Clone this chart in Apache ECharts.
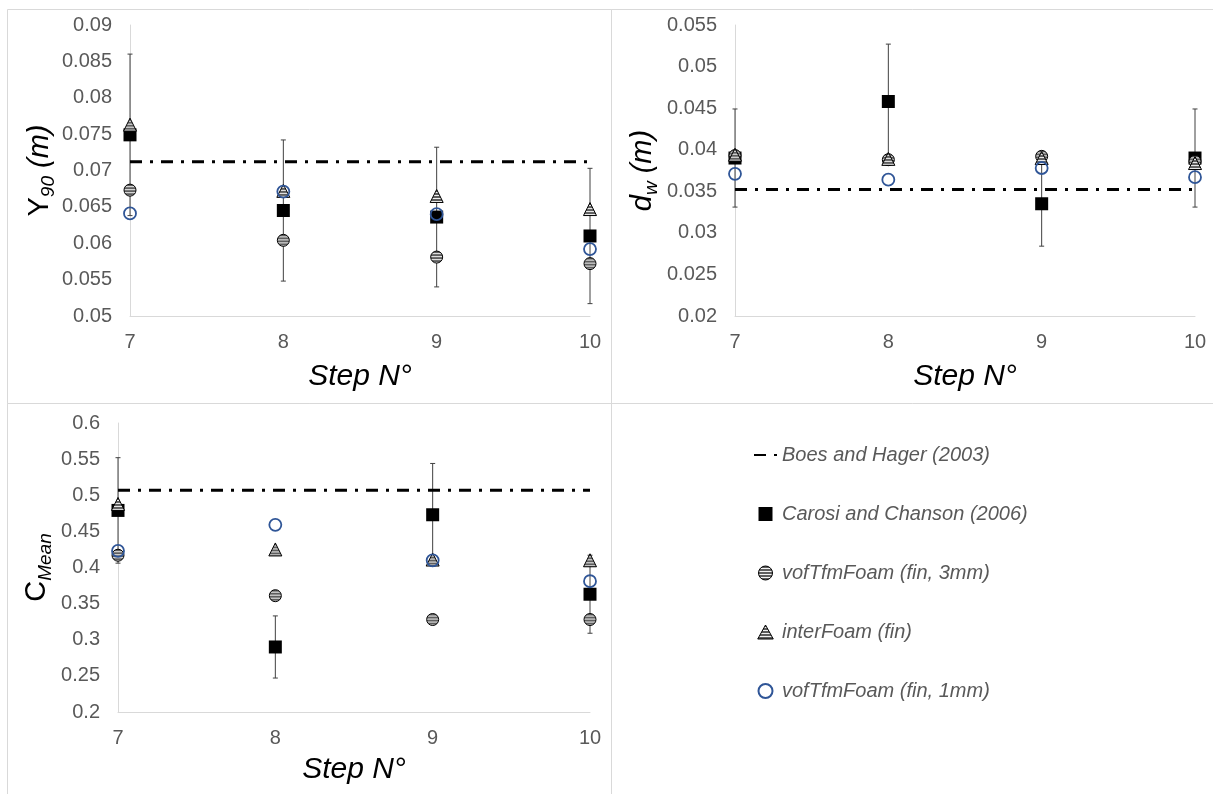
<!DOCTYPE html>
<html>
<head>
<meta charset="utf-8">
<script src="https://cdn.jsdelivr.net/npm/echarts@6/dist/echarts.min.js"></script>
<style>
html,body{margin:0;padding:0;background:#fff;}
#chart{width:1213px;height:794px;}
</style>
</head>
<body>
<div id="chart"></div>
<script>
// ---- data ----
const steps = [7, 8, 9, 10];
const names = ['Boes and Hager (2003)', 'Carosi and Chanson (2006)', 'vofTfmFoam (fin, 3mm)', 'interFoam (fin)', 'vofTfmFoam (fin, 1mm)'];

// Panel 1: Y90 (m)
const boesY90 = 0.0712;
const carosiY90 = [0.0749, 0.0645, 0.0636, 0.0610];
const carosiErrY90 = [0.0111, 0.0097, 0.0096, 0.0093];
const vof3Y90 = [0.0673, 0.0604, 0.0581, 0.0572];
const interY90 = [0.0763, 0.0672, 0.0665, 0.0647];
const vof1Y90 = [0.0641, 0.0671, 0.0640, 0.0592];

// Panel 2: dw (m)
const boesDw = 0.0352;
const carosiDw = [0.0390, 0.0458, 0.0335, 0.0390];
const carosiErrDw = [0.0059, 0.0069, 0.0051, 0.0059];
const vof3Dw = [0.0393, 0.0388, 0.0392, 0.0386];
const interDw = [0.0394, 0.0389, 0.0390, 0.0384];
const vof1Dw = [0.0371, 0.0364, 0.0378, 0.0367];

// Panel 3: CMean
const boesC = 0.507;
const carosiC = [0.479, 0.290, 0.473, 0.363];
const carosiErrC = [0.073, 0.043, 0.071, 0.054];
const vof3C = [0.417, 0.361, 0.328, 0.328];
const interC = [0.488, 0.425, 0.411, 0.410];
const vof1C = [0.423, 0.459, 0.410, 0.381];

// axis ranges
const yMin = [0.05, 0.02, 0.2];
const yMax = [0.09, 0.055, 0.6];
const yStep = [0.005, 0.005, 0.05];

// ---- styling helpers ----
const FONT = 'Liberation Sans, Arial, sans-serif';
const stripe = document.createElement('canvas');
stripe.width = 4; stripe.height = 3;
(function(){
  const c = stripe.getContext('2d');
  c.fillStyle = '#5e5e5e'; c.fillRect(0, 0, 4, 2);
  c.fillStyle = '#f2f2f2'; c.fillRect(0, 2, 4, 1);
})();
// symbols are drawn at unit size and scaled by size/2, so counter-scale the pattern
function stripeFor(size) {
  return { image: stripe, repeat: 'repeat', scaleX: 2 / size, scaleY: 2 / size };
}
const stripeLegend = { image: stripe, repeat: 'repeat' };

const CIRC = 12, TRI = 13, SQ = 13;

const panels = [
  { boes: boesY90, carosi: carosiY90, err: carosiErrY90, vof3: vof3Y90, inter: interY90, vof1: vof1Y90 },
  { boes: boesDw, carosi: carosiDw, err: carosiErrDw, vof3: vof3Dw, inter: interDw, vof1: vof1Dw },
  { boes: boesC, carosi: carosiC, err: carosiErrC, vof3: vof3C, inter: interC, vof1: vof1C }
];

const grids = [
  { left: 130, top: 25, width: 460, height: 291 },
  { left: 735, top: 25, width: 460, height: 291 },
  { left: 118, top: 423, width: 472, height: 289 }
];

const yNames = [
  '{u|Y}{s|90}{i| (m)}',
  '{i|d}{s|w}{i| (m)}',
  '{u|C}{s|Mean}'
];
const yNameGaps = [71, 74, 63];
const xNameGaps = [46, 46, 43];

const richName = {
  u: { fontSize: 29, fontFamily: FONT, color: '#000' },
  i: { fontSize: 29, fontStyle: 'italic', fontFamily: FONT, color: '#000' },
  s: { fontSize: 19, fontStyle: 'italic', fontFamily: FONT, color: '#000', padding: [17, 0, 0, 0] }
};

const xAxes = grids.map((g, i) => ({
  type: 'value', gridIndex: i, min: 7, max: 10, interval: 1,
  name: 'Step N°', nameLocation: 'middle', nameGap: xNameGaps[i],
  nameTextStyle: { fontSize: 30, fontStyle: 'italic', fontFamily: FONT, color: '#000' },
  axisLine: { show: true, lineStyle: { color: '#d9d9d9', width: 1 } },
  axisTick: { show: false },
  splitLine: { show: false },
  axisLabel: { fontSize: 20, color: '#595959', fontFamily: FONT, margin: 16 }
}));

const yAxes = grids.map((g, i) => ({
  type: 'value', gridIndex: i, min: yMin[i], max: yMax[i], interval: yStep[i],
  name: yNames[i], nameLocation: 'middle', nameRotate: 90, nameGap: yNameGaps[i],
  nameTextStyle: { rich: richName },
  axisLine: { show: true, lineStyle: { color: '#d9d9d9', width: 1 } },
  axisTick: { show: false },
  splitLine: { show: false },
  axisLabel: { fontSize: 20, color: '#595959', fontFamily: FONT, margin: 18 }
}));

const series = [];
panels.forEach((p, i) => {
  // error bars of Carosi and Chanson
  series.push({
    type: 'custom', xAxisIndex: i, yAxisIndex: i, silent: true, z: 1,
    data: steps.map((s, k) => [s, p.carosi[k] - p.err[k], p.carosi[k] + p.err[k]]),
    encode: { x: 0, y: [1, 2] },
    renderItem: function (params, api) {
      const x = api.value(0), lo = api.value(1), hi = api.value(2);
      const a = api.coord([x, lo]), b = api.coord([x, hi]);
      const c = 2.5;
      const st = { stroke: '#404040', lineWidth: 1 };
      return {
        type: 'group', children: [
          { type: 'line', shape: { x1: a[0], y1: a[1], x2: b[0], y2: b[1] }, style: st },
          { type: 'line', shape: { x1: a[0] - c, y1: a[1], x2: a[0] + c, y2: a[1] }, style: st },
          { type: 'line', shape: { x1: b[0] - c, y1: b[1], x2: b[0] + c, y2: b[1] }, style: st }
        ]
      };
    }
  });
  series.push({
    name: names[0], type: 'line', xAxisIndex: i, yAxisIndex: i, z: 2,
    data: [[steps[0], p.boes], [steps[steps.length - 1], p.boes]],
    symbol: 'none', silent: true,
    lineStyle: { color: '#000', width: 3, type: [12, 8, 3, 8] },
    itemStyle: { color: '#000' }
  });
  series.push({
    name: names[1], type: 'scatter', xAxisIndex: i, yAxisIndex: i, z: 3,
    data: steps.map((s, k) => [s, p.carosi[k]]),
    symbol: 'rect', symbolSize: SQ,
    itemStyle: { color: '#000', opacity: 1 }
  });
  series.push({
    name: names[2], type: 'scatter', xAxisIndex: i, yAxisIndex: i, z: 4,
    data: steps.map((s, k) => [s, p.vof3[k]]),
    symbol: 'circle', symbolSize: CIRC,
    itemStyle: { color: stripeFor(CIRC), borderColor: '#000', borderWidth: 1, opacity: 1 }
  });
  series.push({
    name: names[3], type: 'scatter', xAxisIndex: i, yAxisIndex: i, z: 5,
    data: steps.map((s, k) => [s, p.inter[k]]),
    symbol: 'triangle', symbolSize: TRI,
    itemStyle: { color: stripeFor(TRI), borderColor: '#000', borderWidth: 1, opacity: 1 }
  });
  series.push({
    name: names[4], type: 'scatter', xAxisIndex: i, yAxisIndex: i, z: 6,
    data: steps.map((s, k) => [s, p.vof1[k]]),
    symbol: 'circle', symbolSize: CIRC,
    itemStyle: { color: 'rgba(255,255,255,0)', borderColor: '#2F5597', borderWidth: 1.8, opacity: 1 }
  });
});

const borderStyle = { fill: 'none', stroke: '#d9d9d9', lineWidth: 1 };

const option = {
  backgroundColor: '#fff',
  animation: false,
  grid: grids,
  xAxis: xAxes,
  yAxis: yAxes,
  series: series,
  legend: {
    orient: 'vertical', left: 748, top: 440,
    itemWidth: 23, itemHeight: 14, itemGap: 39,
    selectedMode: false,
    data: [
      { name: names[0], itemStyle: { color: 'rgba(0,0,0,0)', borderWidth: 0 } },
      { name: names[1], icon: 'path://M0,0H10V10H0Z' },
      { name: names[2], icon: 'circle', itemStyle: { color: stripeLegend, borderColor: '#000', borderWidth: 1 } },
      { name: names[3], icon: 'path://M5,0L10,9H0Z', itemStyle: { color: stripeLegend, borderColor: '#000', borderWidth: 1 } },
      { name: names[4], icon: 'circle' }
    ],
    textStyle: { fontSize: 20, fontStyle: 'italic', color: '#595959', fontFamily: FONT }
  },
  graphic: [
    { type: 'rect', shape: { x: 7.5, y: 9.5, width: 604, height: 394 }, style: borderStyle, silent: true, z: -1 },
    { type: 'rect', shape: { x: 611.5, y: 9.5, width: 610, height: 394 }, style: borderStyle, silent: true, z: -1 },
    { type: 'rect', shape: { x: 7.5, y: 403.5, width: 604, height: 400 }, style: borderStyle, silent: true, z: -1 }
  ]
};

const chart = echarts.init(document.getElementById('chart'), null, { renderer: 'canvas' });
chart.setOption(option);
</script>
</body>
</html>
